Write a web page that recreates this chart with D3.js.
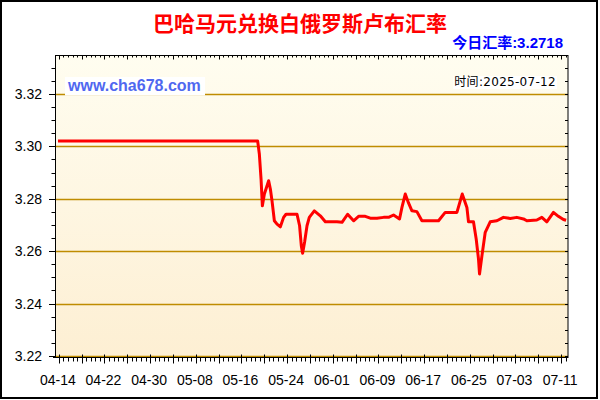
<!DOCTYPE html>
<html><head><meta charset="utf-8">
<script src="https://cdn.jsdelivr.net/npm/d3@7"></script>
<style>html,body{margin:0;padding:0;background:#fff;}svg{display:block;}</style>
</head><body>
<svg id="c" width="600" height="400"></svg>
<script>
const titleText = "巴哈马元兑换白俄罗斯卢布汇率";
const todayText = "今日汇率:3.2718";
const dateText = "时间:2025-07-12";
const watermark = "www.cha678.com";
const baseDate = "2025-04-14";
// days since 2025-04-14
const dayOffsets = [-0.15, 34.83, 35.13, 35.43, 35.66, 36.01, 36.76, 37.06, 37.35, 37.76, 38.23, 38.81, 39.38, 39.80, 41.73, 42.18, 42.48, 42.71, 43.06, 43.48, 43.88, 44.76, 45.81, 46.69, 48.73, 49.61, 50.59, 51.64, 52.51, 53.69, 54.56, 55.73, 56.89, 57.76, 58.64, 59.69, 60.11, 60.69, 61.26, 61.86, 62.73, 63.61, 66.52, 67.69, 69.74, 70.67, 71.49, 71.77, 72.64, 73.12, 73.52, 73.70, 74.12, 74.70, 75.57, 76.74, 77.89, 79.07, 80.24, 81.40, 81.99, 83.74, 84.62, 85.49, 86.65, 87.51, 88.40, 88.87];
const rates = [3.3021, 3.3021, 3.2971, 3.2875, 3.2773, 3.2818, 3.2869, 3.2837, 3.2792, 3.2716, 3.2703, 3.2693, 3.2729, 3.2741, 3.2741, 3.2697, 3.2621, 3.2592, 3.2635, 3.2697, 3.2729, 3.2754, 3.2735, 3.2712, 3.2712, 3.2710, 3.2741, 3.2716, 3.2733, 3.2733, 3.2726, 3.2726, 3.2729, 3.2729, 3.2738, 3.2723, 3.2767, 3.2818, 3.2784, 3.2754, 3.2751, 3.2716, 3.2716, 3.2748, 3.2748, 3.2818, 3.2767, 3.2712, 3.2712, 3.2646, 3.2570, 3.2513, 3.2582, 3.2672, 3.2712, 3.2716, 3.2729, 3.2725, 3.2729, 3.2723, 3.2716, 3.2719, 3.2729, 3.2712, 3.2748, 3.2733, 3.2721, 3.2718];
const xTickLabels = ["04-14","04-22","04-30","05-08","05-16","05-24","06-01","06-09","06-17","06-25","07-03","07-11"];
const yTickLabels = ["3.22","3.24","3.26","3.28","3.30","3.32"];

const DAY = 86400000;
const t0 = new Date(baseDate + "T00:00:00Z").getTime();
const toDate = d => new Date(t0 + d * DAY);
const data = dayOffsets.map((d, i) => ({ date: toDate(d), v: rates[i] }));

const L = 55.5, R = 568, T = 55.5, B = 357.5;
const x = d3.scaleUtc().domain([toDate(-0.58), toDate(89.2)]).range([L, R]);
const y = d3.scaleLinear().domain([3.2194, 3.3347]).range([B, T]);

const svg = d3.select("#c");
const defs = svg.append("defs");
const grad = defs.append("linearGradient").attr("id","bg").attr("x1",0).attr("y1",0).attr("x2",0).attr("y2",1);
grad.append("stop").attr("offset","0%").attr("stop-color","#fffdf0");
grad.append("stop").attr("offset","100%").attr("stop-color","#fdefd3");

svg.append("rect").attr("x",0).attr("y",0).attr("width",600).attr("height",400).attr("fill","#fff");
svg.append("rect").attr("x",1).attr("y",1).attr("width",596).attr("height",397).attr("fill","none").attr("stroke","#000").attr("stroke-width",2);

svg.append("rect").attr("x",L).attr("y",T).attr("width",R-L).attr("height",B-T).attr("fill","url(#bg)");

// gridlines
const yMajor = yTickLabels.map(Number);
svg.append("g").selectAll("line").data(yMajor).join("line")
  .attr("x1", L).attr("x2", R)
  .attr("y1", d => Math.round(y(d)) + 0.5).attr("y2", d => Math.round(y(d)) + 0.5)
  .attr("stroke", "#bf8c00").attr("stroke-width", 1.3);

// line
const line = d3.line().x(d => x(d.date)).y(d => y(d.v));
svg.append("path").datum(data).attr("d", line)
  .attr("fill","none").attr("stroke","#ff0000").attr("stroke-width",3).attr("stroke-linejoin","round");

// frame
svg.append("rect").attr("x",L).attr("y",T).attr("width",R-L).attr("height",B-T)
  .attr("fill","none").attr("stroke","#000").attr("stroke-width",1);
svg.append("line").attr("x1",53).attr("x2",L).attr("y1",B).attr("y2",B).attr("stroke","#000");

// y ticks
const yMinor = d3.range(0, 24).map(i => 3.22 + i * 0.005).filter(v => v <= 3.3347);
const isMajor = v => Math.abs(Math.round(v * 50) - v * 50) < 1e-6;
const yt = svg.append("g").attr("stroke","#000").attr("stroke-width",1);
yMinor.forEach(v => {
  const yy = Math.round(y(v)) + 0.5;
  yt.append("line").attr("x1", isMajor(v) ? 49 : 51.5).attr("x2", L).attr("y1", yy).attr("y2", yy);
  yt.append("line").attr("x1", R - 3).attr("x2", R).attr("y1", yy).attr("y2", yy);
});
svg.append("g").selectAll("text").data(yTickLabels).join("text")
  .attr("x", 42).attr("y", d => y(+d) + 5)
  .attr("text-anchor","end").attr("font-family","Arial, 'Liberation Sans', sans-serif")
  .attr("font-size", 14).attr("fill","#000").text(d => d);

// x ticks
const xMinorDays = d3.range(0, 89.2, 0.8);
const xMajorDays = d3.range(0, 89.2, 4);
const xt = svg.append("g").attr("stroke","#000").attr("stroke-width",1);
xMinorDays.forEach(d => {
  const xx = Math.round(x(toDate(d))) + 0.5;
  xt.append("line").attr("x1", xx).attr("x2", xx).attr("y1", B).attr("y2", B + 4);
  xt.append("line").attr("x1", xx).attr("x2", xx).attr("y1", T).attr("y2", T + 2);
});
xMajorDays.forEach(d => {
  const xx = Math.round(x(toDate(d))) + 0.5;
  xt.append("line").attr("x1", xx).attr("x2", xx).attr("y1", B - 3).attr("y2", B + 6);
  xt.append("line").attr("x1", xx).attr("x2", xx).attr("y1", T).attr("y2", T + 4);
});
svg.append("g").selectAll("text").data(xTickLabels).join("text")
  .attr("x", (d, i) => x(toDate(i * 8)) - 1).attr("y", 385)
  .attr("text-anchor","middle").attr("font-family","Arial, 'Liberation Sans', sans-serif")
  .attr("font-size", 14).attr("fill","#000").text(d => d);

// watermark
svg.append("rect").attr("x",65).attr("y",77).attr("width",140).attr("height",18.5).attr("fill","#fff");
svg.append("text").attr("x",68).attr("y",90.5).attr("font-family","Arial, 'Liberation Sans', sans-serif")
  .attr("font-weight","bold").attr("font-size",16).attr("fill","#5068f0").text(watermark);

// date text
const dt = svg.append("text").attr("x",556).attr("y",86).attr("text-anchor","end")
  .attr("font-family","'DejaVu Sans', 'Noto Sans CJK SC', sans-serif").attr("font-size",12)
  .attr("letter-spacing", 0.3).attr("fill","#000").text(dateText);
const bb = dt.node().getBBox();
svg.insert("rect", () => dt.node()).attr("x", bb.x - 1).attr("y", 76).attr("width", bb.width + 2).attr("height", 13).attr("fill","#fff");

// title
svg.append("text").attr("x",300).attr("y",31).attr("text-anchor","middle")
  .attr("font-family","'Noto Sans CJK SC', sans-serif").attr("font-weight","bold")
  .attr("font-size",21).attr("fill","#ff0000").text(titleText);
svg.append("text").attr("x",563).attr("y",48).attr("text-anchor","end")
  .attr("font-family","Arial, 'Liberation Sans', 'Noto Sans CJK SC', sans-serif").attr("font-weight","bold")
  .attr("font-size",15).attr("fill","#0000ff").text(todayText);
</script>
</body></html>
